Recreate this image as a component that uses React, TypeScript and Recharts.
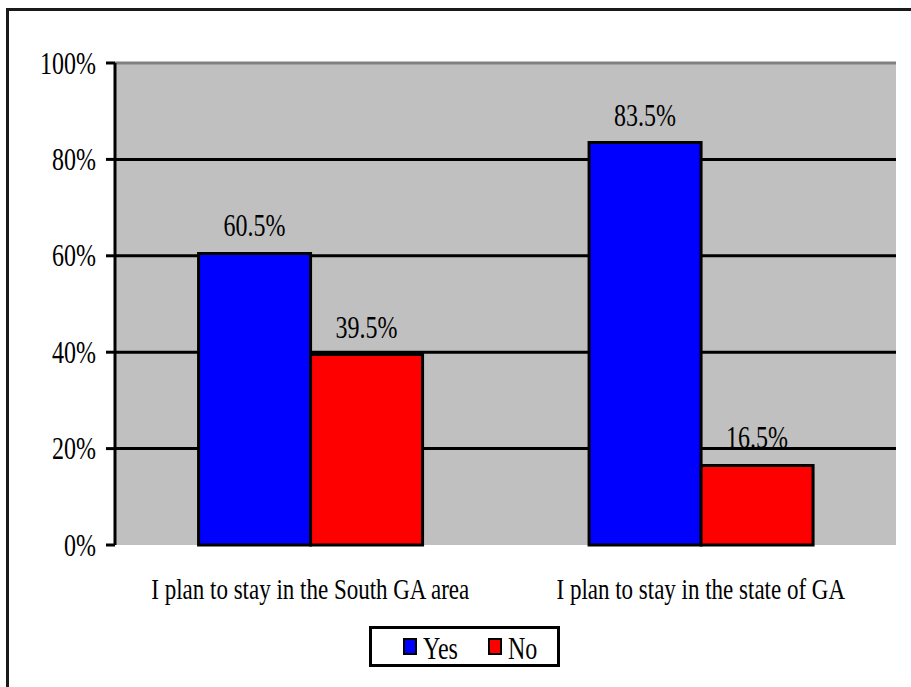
import { BarChart, Bar, XAxis, YAxis, CartesianGrid, LabelList, ReferenceLine, Legend } from 'recharts'

const categories = ['I plan to stay in the South GA area', 'I plan to stay in the state of GA']
const seriesNames = ['Yes', 'No']
const yesValues = [60.5, 83.5]
const noValues = [39.5, 16.5]
const yTicks = [0, 20, 40, 60, 80, 100]
const edgeTicks = [0, 1, 2]

const data = categories.map((category, i) => ({
  category,
  Yes: yesValues[i],
  No: noValues[i],
}))

const FONT = '"Liberation Serif", "Times New Roman", serif'
// the original picture is stretched vertically
const STRETCH = 1.3

function StretchText({ x, y, anchor, size, baseline, children }: any) {
  return (
    <text
      transform={`translate(${x},${y}) scale(1,${STRETCH})`}
      textAnchor={anchor}
      dominantBaseline={baseline || 'alphabetic'}
      fontFamily={FONT}
      fontSize={size}
      fill="#000"
    >
      {children}
    </text>
  )
}

const YTick = (props: any) => (
  <StretchText x={props.x} y={props.y} anchor="end" size={24} baseline="central">
    {props.payload.value}%
  </StretchText>
)

const CategoryTick = (props: any) => (
  <StretchText x={props.x} y={props.y + 54} anchor="middle" size={23}>
    {props.payload.value}
  </StretchText>
)

const BarValue = (props: any) => {
  const box = props.x != null ? props : props.viewBox
  return (
    <StretchText x={box.x + box.width / 2} y={box.y - 17} anchor="middle" size={24}>
      {Number(props.value).toFixed(1)}%
    </StretchText>
  )
}

const LegendBox = (props: any) => {
  const items = [...(props.payload || [])].sort(
    (a: any, b: any) => seriesNames.indexOf(a.value) - seriesNames.indexOf(b.value)
  )
  return (
    <div
      style={{
        boxSizing: 'border-box',
        width: 191,
        height: 41,
        border: '3px solid #000',
        background: '#fff',
        display: 'flex',
        alignItems: 'center',
        paddingLeft: 31,
        fontFamily: FONT,
      }}
    >
      {items.map((item: any, i: number) => (
        <div key={item.value} style={{ display: 'flex', alignItems: 'center', marginLeft: i === 0 ? 0 : 30 }}>
          <span
            style={{
              boxSizing: 'border-box',
              width: 14,
              height: 17,
              border: '2px solid #000',
              background: item.color,
              display: 'inline-block',
            }}
          />
          <span
            style={{
              display: 'inline-block',
              fontSize: 24,
              lineHeight: 1,
              marginLeft: 6,
              marginTop: 4,
              color: '#000',
              transform: `scaleY(${STRETCH})`,
            }}
          >
            {item.value}
          </span>
        </div>
      ))}
    </div>
  )
}

export default function App() {
  return (
    <div style={{ position: 'relative', width: 911, height: 687, overflow: 'hidden', background: '#fff' }}>
      <style>{'body{margin:0}'}</style>
      <div
        style={{
          position: 'absolute',
          left: 6,
          top: 8,
          width: 920,
          height: 700,
          borderTop: '3px solid #1a1a1a',
          borderLeft: '3px solid #1a1a1a',
        }}
      />
      <div style={{ position: 'absolute', left: 0, top: 0 }}>
        <BarChart
          width={911}
          height={687}
          data={data}
          margin={{ top: 63, right: 15, bottom: 82, left: 0 }}
          barCategoryGap="21.4%"
          barGap={0}
        >
          <CartesianGrid
            xAxisId="cat"
            vertical={false}
            horizontalValues={[20, 40, 60, 80]}
            stroke="#000"
            strokeWidth={3}
            fill="#C0C0C0"
            fillOpacity={1}
          />
          <XAxis
            xAxisId="edges"
            type="number"
            domain={[0, 2]}
            ticks={edgeTicks}
            height={0}
            tick={false}
            tickSize={10}
            axisLine={{ stroke: '#000', strokeWidth: 3 }}
            tickLine={{ stroke: '#000', strokeWidth: 3 }}
          />
          <XAxis
            xAxisId="cat"
            dataKey="category"
            height={60}
            axisLine={false}
            tickLine={false}
            tickSize={0}
            tickMargin={0}
            interval={0}
            tick={<CategoryTick />}
          />
          <YAxis
            domain={[0, 100]}
            ticks={yTicks}
            width={115}
            tickSize={9}
            tickMargin={10}
            axisLine={{ stroke: '#000', strokeWidth: 3 }}
            tickLine={{ stroke: '#000', strokeWidth: 3 }}
            tick={<YTick />}
          />
          <ReferenceLine xAxisId="edges" y={100} stroke="#808080" strokeWidth={3} />
          <ReferenceLine xAxisId="edges" x={2} stroke="#808080" strokeWidth={3} />
          <Bar xAxisId="cat" dataKey="Yes" fill="#0000FF" stroke="#000" strokeWidth={3} isAnimationActive={false}>
            <LabelList dataKey="Yes" content={<BarValue />} />
          </Bar>
          <Bar xAxisId="cat" dataKey="No" fill="#FF0000" stroke="#000" strokeWidth={3} isAnimationActive={false}>
            <LabelList dataKey="No" content={<BarValue />} />
          </Bar>
          <Legend
            layout="horizontal"
            verticalAlign="middle"
            align="center"
            wrapperStyle={{ left: 369, top: 626, width: 191, height: 41 }}
            content={<LegendBox />}
          />
        </BarChart>
      </div>
    </div>
  )
}
